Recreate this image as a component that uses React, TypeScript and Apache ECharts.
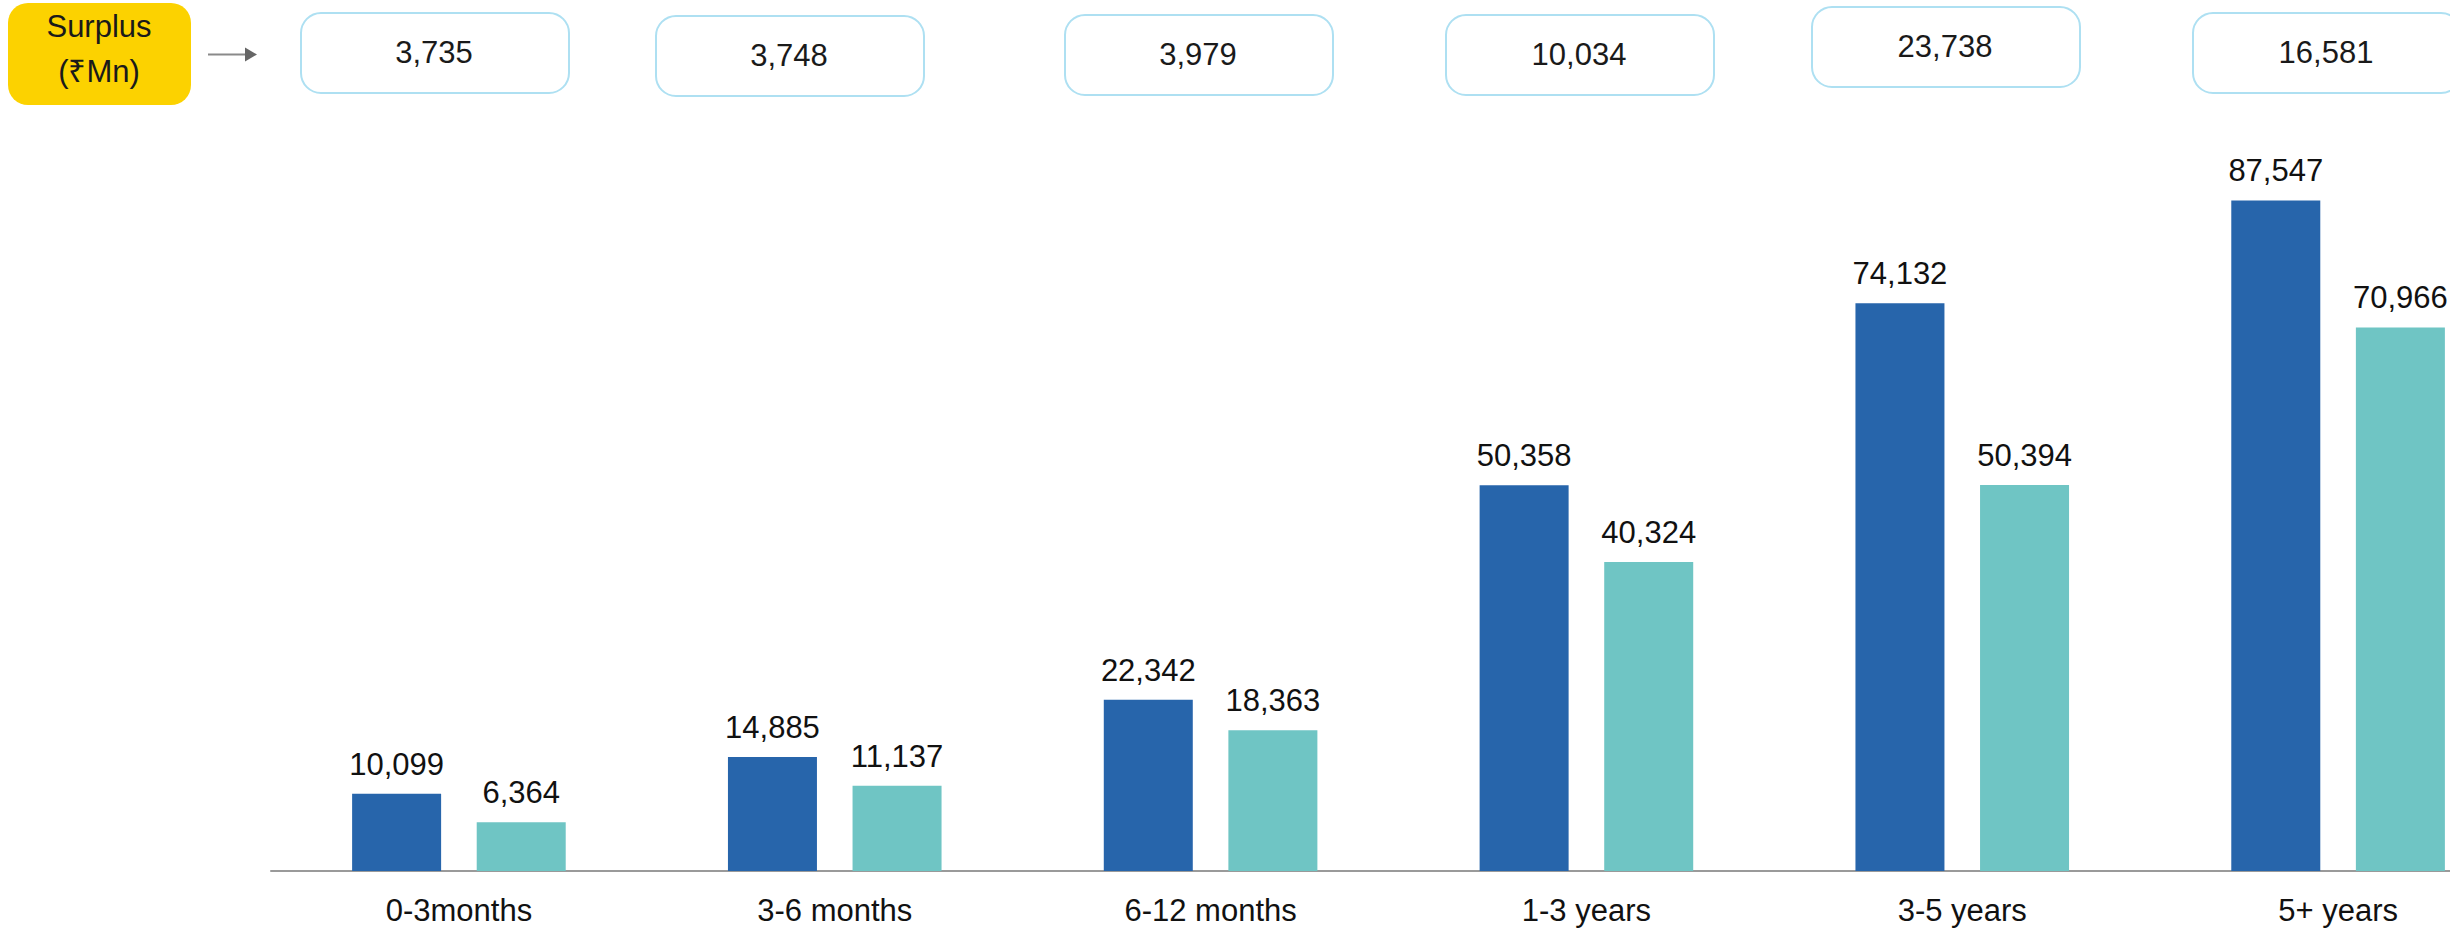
import React, { useEffect, useRef } from "react";
import * as echarts from "echarts";

const categories = ["0-3months", "3-6 months", "6-12 months", "1-3 years", "3-5 years", "5+ years"];
const assets = [10099, 14885, 22342, 50358, 74132, 87547];
const liabilities = [6364, 11137, 18363, 40324, 50394, 70966];
const surplus = ["3,735", "3,748", "3,979", "10,034", "23,738", "16,581"];

const FONT = "'Liberation Sans', Arial, sans-serif";
const boxX = [300, 655, 1064, 1445, 1811, 2192];
const boxY = [12, 15, 14, 14, 6, 12];

export default function App() {
  const ref = useRef<HTMLDivElement>(null);
  useEffect(() => {
    if (!ref.current) return;
    const chart = echarts.init(ref.current, null, { renderer: "svg" });
    const graphics: any[] = [
      {
        type: "rect",
        left: 8,
        top: 3,
        shape: { width: 183, height: 102, r: 20 },
        style: { fill: "#FCD200" },
      },
      {
        type: "text",
        x: 99,
        y: 26,
        style: { text: "Surplus", font: `31px ${FONT}`, fill: "#1a1a1a", textAlign: "center", textVerticalAlign: "middle" },
      },
      {
        type: "text",
        x: 99,
        y: 71,
        style: { text: "(₹Mn)", font: `31px ${FONT}`, fill: "#1a1a1a", textAlign: "center", textVerticalAlign: "middle" },
      },
      {
        type: "line",
        shape: { x1: 208, y1: 54.5, x2: 247, y2: 54.5 },
        style: { stroke: "#8a8a8a", lineWidth: 2 },
      },
      {
        type: "polygon",
        shape: { points: [[245, 47.5], [257, 54.5], [245, 61.5]] },
        style: { fill: "#666" },
      },
    ];
    surplus.forEach((s, i) => {
      graphics.push({
        type: "rect",
        left: boxX[i],
        top: boxY[i],
        shape: { width: 268, height: 80, r: 20 },
        style: { fill: "#fff", stroke: "#AEE0F2", lineWidth: 2 },
      });
      graphics.push({
        type: "text",
        x: boxX[i] + 134,
        y: boxY[i] + 40,
        style: { text: s, font: `31px ${FONT}`, fill: "#1a1a1a", textAlign: "center", textVerticalAlign: "middle" },
      });
    });
    const valueLabel = {
      show: true,
      position: "top",
      distance: 14,
      fontSize: 31,
      color: "#111",
      fontFamily: FONT,
      formatter: (p: any) => p.value.toLocaleString("en-US"),
    };
    chart.setOption({
      animation: false,
      grid: { left: 271, right: 0, top: 105, bottom: 60, containLabel: false },
      xAxis: {
        type: "category",
        data: categories,
        axisLine: { lineStyle: { color: "#9a9a9a", width: 2 } },
        axisTick: { show: false },
        axisLabel: { interval: 0, margin: 24, fontSize: 31, color: "#111", fontFamily: FONT },
      },
      yAxis: { type: "value", min: 0, max: 100000, show: false, splitLine: { show: false } },
      series: [
        {
          name: "Assets",
          type: "bar",
          data: assets,
          barWidth: 89,
          barGap: "40%",
          itemStyle: { color: "#2765AB" },
          label: valueLabel,
        },
        {
          name: "Liabilities",
          type: "bar",
          data: liabilities,
          barWidth: 89,
          barGap: "40%",
          itemStyle: { color: "#6FC5C4" },
          label: valueLabel,
        },
      ],
      graphic: graphics,
    });
    return () => chart.dispose();
  }, []);
  return (
    <div
      style={{ position: "fixed", left: 0, top: 0, width: 2450, height: 931, overflow: "hidden", background: "#fff" }}
    >
      <div ref={ref} style={{ width: 2526, height: 931 }} />
    </div>
  );
}
